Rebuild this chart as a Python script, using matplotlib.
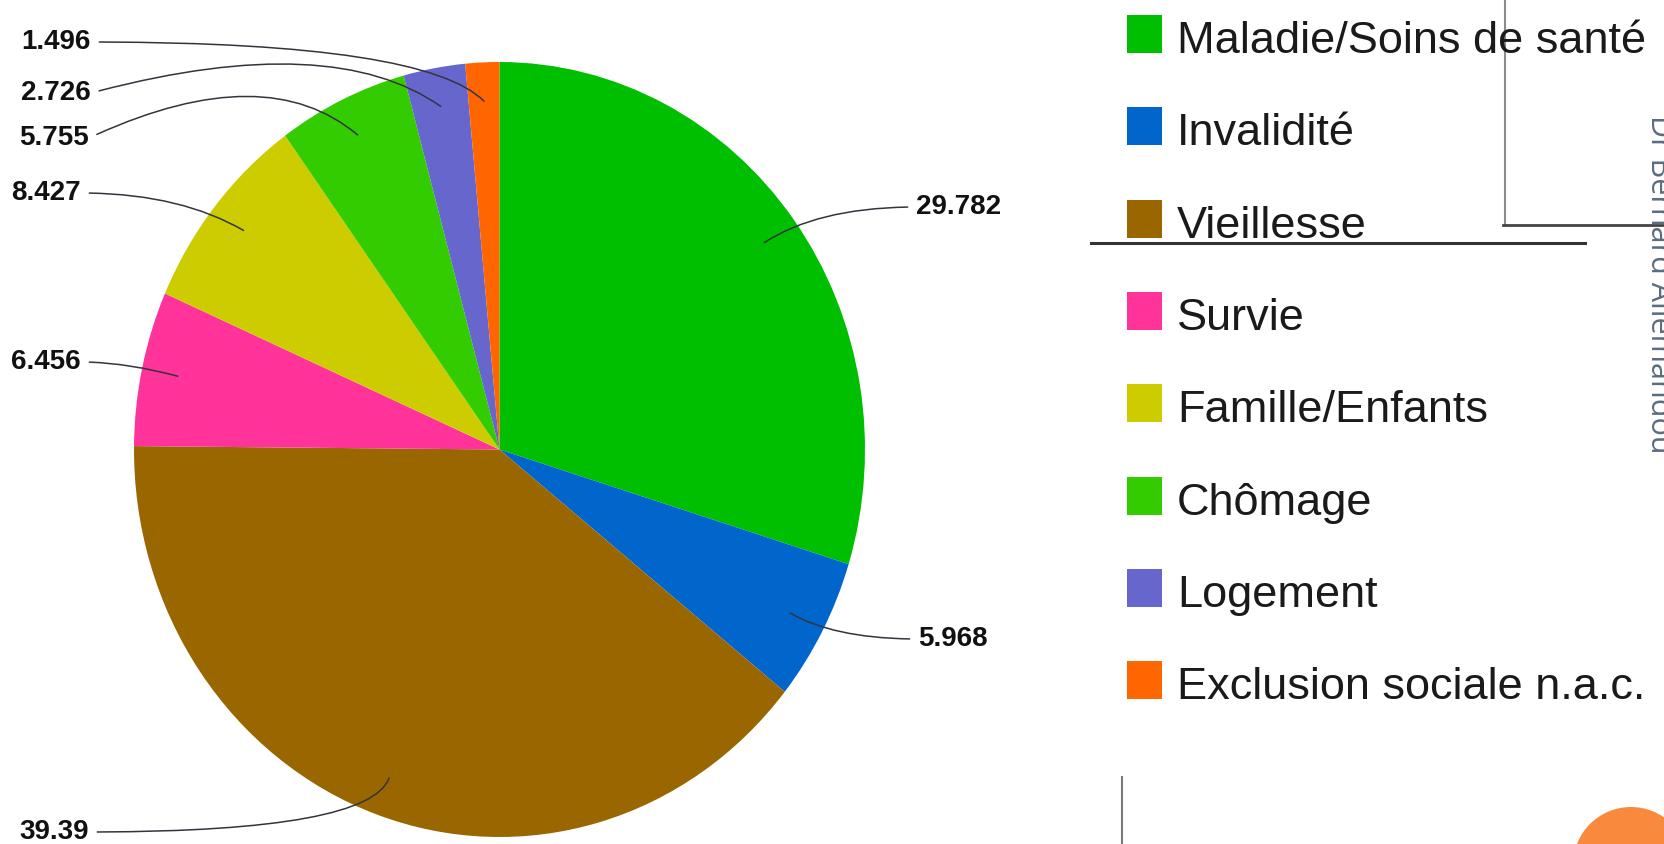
import matplotlib.pyplot as plt
import numpy as np
from matplotlib.patches import Rectangle, Circle

# Dépenses de protection sociale par fonction (%)
categories = ["Maladie/Soins de santé", "Invalidité", "Vieillesse", "Survie",
              "Famille/Enfants", "Chômage", "Logement", "Exclusion sociale n.a.c."]
values = [29.782, 5.968, 39.39, 6.456, 8.427, 5.755, 2.726, 1.496]
value_labels = ["29.782", "5.968", "39.39", "6.456", "8.427", "5.755", "2.726", "1.496"]
colors = ["#00BF00", "#0066CC", "#996600", "#FF3399",
          "#CCCC00", "#33CC00", "#6666CC", "#FF6600"]

W, H = 1664, 844
fig = plt.figure(figsize=(W / 100, H / 100), dpi=100)

# pie drawn in a slightly tall box -> ellipse like the original export
px0, px1, py0, py1 = 134, 865, 62, 837
ax = fig.add_axes([px0 / W, 1 - py1 / H, (px1 - px0) / W, (py1 - py0) / H])
wedges, _ = ax.pie(values, colors=colors, startangle=90, counterclock=False,
                   radius=1, wedgeprops=dict(linewidth=0))
ax.set_aspect("auto")
ax.set_xlim(-1, 1)
ax.set_ylim(-1, 1)
ax.axis("off")

# overlay in pixel coordinates (y downward)
ov = fig.add_axes([0, 0, 1, 1], zorder=3)
ov.set_xlim(0, W)
ov.set_ylim(H, 0)
ov.axis("off")
ov.patch.set_alpha(0)

# label position (px), side, angleA, angleB
label_pos = [
    (916, 207, "right", 0, 33),
    (918, 639, "right", 0, -30),
    (89, 832, "left", 0, 70),
    (81, 362, "left", 0, -15),
    (81, 193, "left", 0, -30),
    (89, 138, "left", 25, -40),
    (91, 93, "left", 15, -35),
    (91, 42, "left", 0, -45),
]

for w, lab, (tx, ty, side, a1, a2) in zip(wedges, value_labels, label_pos):
    mid = np.deg2rad((w.theta1 + w.theta2) / 2)
    xy = (0.9 * np.cos(mid), 0.9 * np.sin(mid))
    if side == "right":
        ha, rel = "left", (0, 0.5)
    else:
        ha, rel = "right", (1, 0.5)
    ax.annotate(lab, xy=xy, xytext=(tx, ty), textcoords=ov.transData,
                ha=ha, va="center", fontsize=20, fontweight="bold",
                family=["Liberation Sans", "DejaVu Sans"], color="#111111",
                arrowprops=dict(arrowstyle="-", color="#34343f", lw=1.1,
                                relpos=rel, shrinkA=4, shrinkB=0,
                                connectionstyle=f"angle3,angleA={a1},angleB={a2}"))

# legend
for i, (cat, col) in enumerate(zip(categories, colors)):
    base = 53 + 92.3 * i
    ov.add_patch(Rectangle((1127, base - 38), 35, 38, facecolor=col,
                           edgecolor="none"))
    ov.text(1177, base, cat, ha="left", va="baseline", fontsize=32.5,
            family=["Liberation Sans", "DejaVu Sans"], color="#1a1a1a")

# slide decorations
ov.plot([1505, 1505], [0, 225], color="#8c8c8c", lw=1.5)
ov.plot([1503, W], [225, 225], color="#444444", lw=2.0)
ov.plot([1091, 1585], [243, 243], color="#333333", lw=2.2)
ov.plot([1122, 1122], [777, H], color="#7a7a7a", lw=1.5)
ov.add_patch(Circle((1631, 865), 58, facecolor="#F98A3D", edgecolor="none"))
ov.text(1651, 115, "Dr Bernard Allemandou", rotation=-90, rotation_mode="anchor",
        ha="left", va="baseline", fontsize=22, family=["Open Sans", "DejaVu Sans"],
        color="#5c6c80")

fig.savefig("out.png", dpi=100)
